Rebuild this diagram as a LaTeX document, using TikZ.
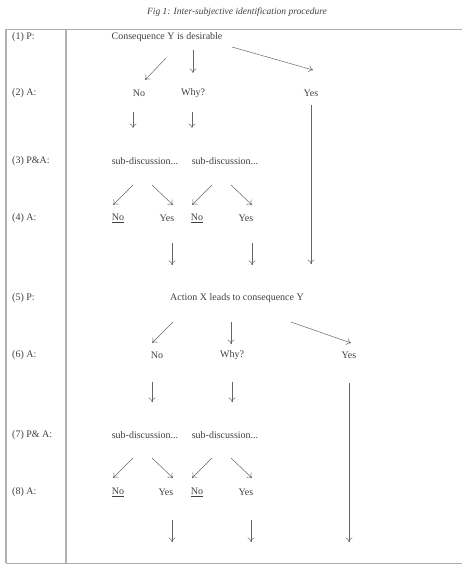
\documentclass[tikz,border=0pt]{standalone}
\usepackage{fontspec}
\setmainfont{Liberation Serif}
\usetikzlibrary{arrows.meta, calc}

\begin{document}
\begin{tikzpicture}[x=1pt, y=-1pt,
        txt/.style={font=\fontsize{10}{12}\selectfont, text=black!75, inner sep=1pt},
        lab/.style={txt, anchor=west},
        frm/.style={draw=gray!65, line width=0.8pt},
        bar/.style={draw=gray!60, line width=1.8pt},
        arr/.style={-{To[length=4.5pt,width=7pt]}, draw=gray!80!black, line width=0.5pt}
    ]
    \useasboundingbox (0,0) rectangle (461,564);
    % title and frame
    \node[txt, font=\fontsize{9.5}{11}\selectfont\itshape] (title) at (237,12) {Fig 1: Inter-subjective identification procedure};
    \draw[frm] (6,29) rectangle (468,563);
    \draw[bar] (6,29) -- (6,563);
    \draw[bar] (66,29) -- (66,563);
    % row labels
    \node[lab] (l1) at (11,37) {(1) P:};
    \node[lab] (l2) at (11,93) {(2) A:};
    \node[lab] (l3) at (11,161) {(3) P\&A:};
    \node[lab] (l4) at (11,218) {(4) A:};
    \node[lab] (l5) at (11,298) {(5) P:};
    \node[lab] (l6) at (11,355) {(6) A:};
    \node[lab] (l7) at (11,435) {(7) P\& A:};
    \node[lab] (l8) at (11,492) {(8) A:};
    % first claim
    \node[txt] (cons) at (167,37) {Consequence Y is desirable};
    \node[txt] (no1) at (139,93) {No};
    \node[txt] (why1) at (193,93) {Why?};
    \node[txt] (yes1) at (311,93) {Yes};
    \node[txt] (sd1) at (145,161) {sub-discussion...};
    \node[txt] (sd2) at (225,161) {sub-discussion...};
    \node[txt] (no2) at (118,218) {\underline{No}};
    \node[txt] (yes2) at (167,218) {Yes};
    \node[txt] (no3) at (197,218) {\underline{No}};
    \node[txt] (yes3) at (246,218) {Yes};
    % second claim
    \node[txt] (act) at (237,298) {Action X leads to consequence Y};
    \node[txt] (no4) at (157,355) {No};
    \node[txt] (why2) at (232,355) {Why?};
    \node[txt] (yes4) at (349,355) {Yes};
    \node[txt] (sd3) at (145,435) {sub-discussion...};
    \node[txt] (sd4) at (225,435) {sub-discussion...};
    \node[txt] (no5) at (118,492) {\underline{No}};
    \node[txt] (yes5) at (166,492) {Yes};
    \node[txt] (no6) at (197,492) {\underline{No}};
    \node[txt] (yes6) at (246,492) {Yes};
    \coordinate (end1) at (172,542);
    \coordinate (end2) at (251,542);
    \coordinate (end3) at (349,542);

    \draw[arr] ($(cons)+(-1,21)$) -- ($(no1)+(6,-13)$);
    \draw[arr] ($(cons)+(26,13)$) -- ($(why1)+(0,-20)$);
    \draw[arr] ($(cons)+(65,10)$) -- ($(yes1)+(2,-23)$);
    \draw[arr] ($(no1)+(-6,19)$) -- ($(sd1)+(-12,-33)$);
    \draw[arr] ($(why1)+(-1,19)$) -- ($(sd2)+(-33,-33)$);
    \draw[arr] ($(yes1)+(0,12)$) -- ($(act)+(74,-34)$);
    \draw[arr] ($(sd1)+(-12,24)$) -- ($(no2)+(-5,-13)$);
    \draw[arr] ($(sd1)+(7,24)$) -- ($(yes2)+(6,-13)$);
    \draw[arr] ($(sd2)+(-13,24)$) -- ($(no3)+(-5,-13)$);
    \draw[arr] ($(sd2)+(6,24)$) -- ($(yes3)+(6,-13)$);
    \draw[arr] ($(yes2)+(5,25)$) -- ($(act)+(-65,-33)$);
    \draw[arr] ($(yes3)+(6,25)$) -- ($(act)+(15,-33)$);
    \draw[arr] ($(act)+(-64,24)$) -- ($(no4)+(-5,-12)$);
    \draw[arr] ($(act)+(-6,24)$) -- ($(why2)+(-1,-11)$);
    \draw[arr] ($(act)+(54,24)$) -- ($(yes4)+(2,-12)$);
    \draw[arr] ($(no4)+(-5,27)$) -- ($(sd3)+(7,-33)$);
    \draw[arr] ($(why2)+(0,27)$) -- ($(sd4)+(7,-33)$);
    \draw[arr] ($(yes4)+(0,28)$) -- (end3);
    \draw[arr] ($(sd3)+(-12,23)$) -- ($(no5)+(-5,-14)$);
    \draw[arr] ($(sd3)+(7,23)$) -- ($(yes5)+(7,-14)$);
    \draw[arr] ($(sd4)+(-13,23)$) -- ($(no6)+(-5,-14)$);
    \draw[arr] ($(sd4)+(6,23)$) -- ($(yes6)+(6,-14)$);
    \draw[arr] ($(yes5)+(6,28)$) -- (end1);
    \draw[arr] ($(yes6)+(5,28)$) -- (end2);
\end{tikzpicture}
\end{document}
